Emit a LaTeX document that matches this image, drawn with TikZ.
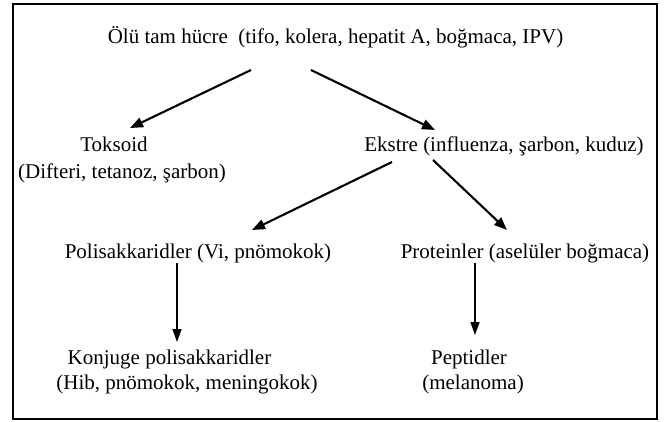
\documentclass[tikz,border=0pt]{standalone}
\usepackage{fontspec}
\setmainfont{Liberation Serif}
\usetikzlibrary{arrows.meta,calc}
\begin{document}
\begin{tikzpicture}[x=1pt,y=-1pt,
  lbl/.style={anchor=base,inner sep=0pt,font=\fontsize{21}{25}\selectfont},
  diag/.style={line width=2.1pt,-{Triangle[length=13pt,width=10pt]}},
  vert/.style={line width=1.5pt,-{Triangle[length=13pt,width=9pt]}},
  frame/.style={line width=1.4pt}]
\useasboundingbox (0,0) rectangle (664,421);
\draw[frame] (13,4) rectangle (657,419);
\node[lbl] (title) at (335.5,43) {Ölü tam hücre~ (tifo, kolera, hepatit A, boğmaca, IPV)};
\node[lbl] (toks) at (114,151) {Toksoid};
\node[lbl] (toks2) at (122,178) {(Difteri, tetanoz, şarbon)};
\node[lbl] (ekst) at (504,151) {Ekstre (influenza, şarbon, kuduz)};
\node[lbl] (poli) at (198,258) {Polisakkaridler (Vi, pnömokok)};
\node[lbl] (prot) at (525,258) {Proteinler (aselüler boğmaca)};
\node[lbl] (konj) at (169.5,364) {Konjuge polisakkaridler};
\node[lbl] (konj2) at (187,389) {(Hib, pnömokok, meningokok)};
\node[lbl] (pept) at (469,364) {Peptidler};
\node[lbl] (pept2) at (473,389) {(melanoma)};
\draw[diag] ($(title.base)+(-84.5,27)$) -- ($(toks.base)+(16,-23)$);
\draw[diag] ($(title.base)+(-24.5,27)$) -- ($(ekst.base)+(-69,-21)$);
\draw[diag] ($(ekst.base)+(-112,11)$) -- ($(poli.base)+(54,-28)$);
\draw[diag] ($(ekst.base)+(-71,9)$) -- ($(prot.base)+(-18,-28)$);
\draw[vert] ($(poli.base)+(-21,5)$) -- ($(konj.base)+(7.5,-22)$);
\draw[vert] ($(prot.base)+(-50,5)$) -- ($(pept.base)+(6,-29)$);
\end{tikzpicture}
\end{document}
